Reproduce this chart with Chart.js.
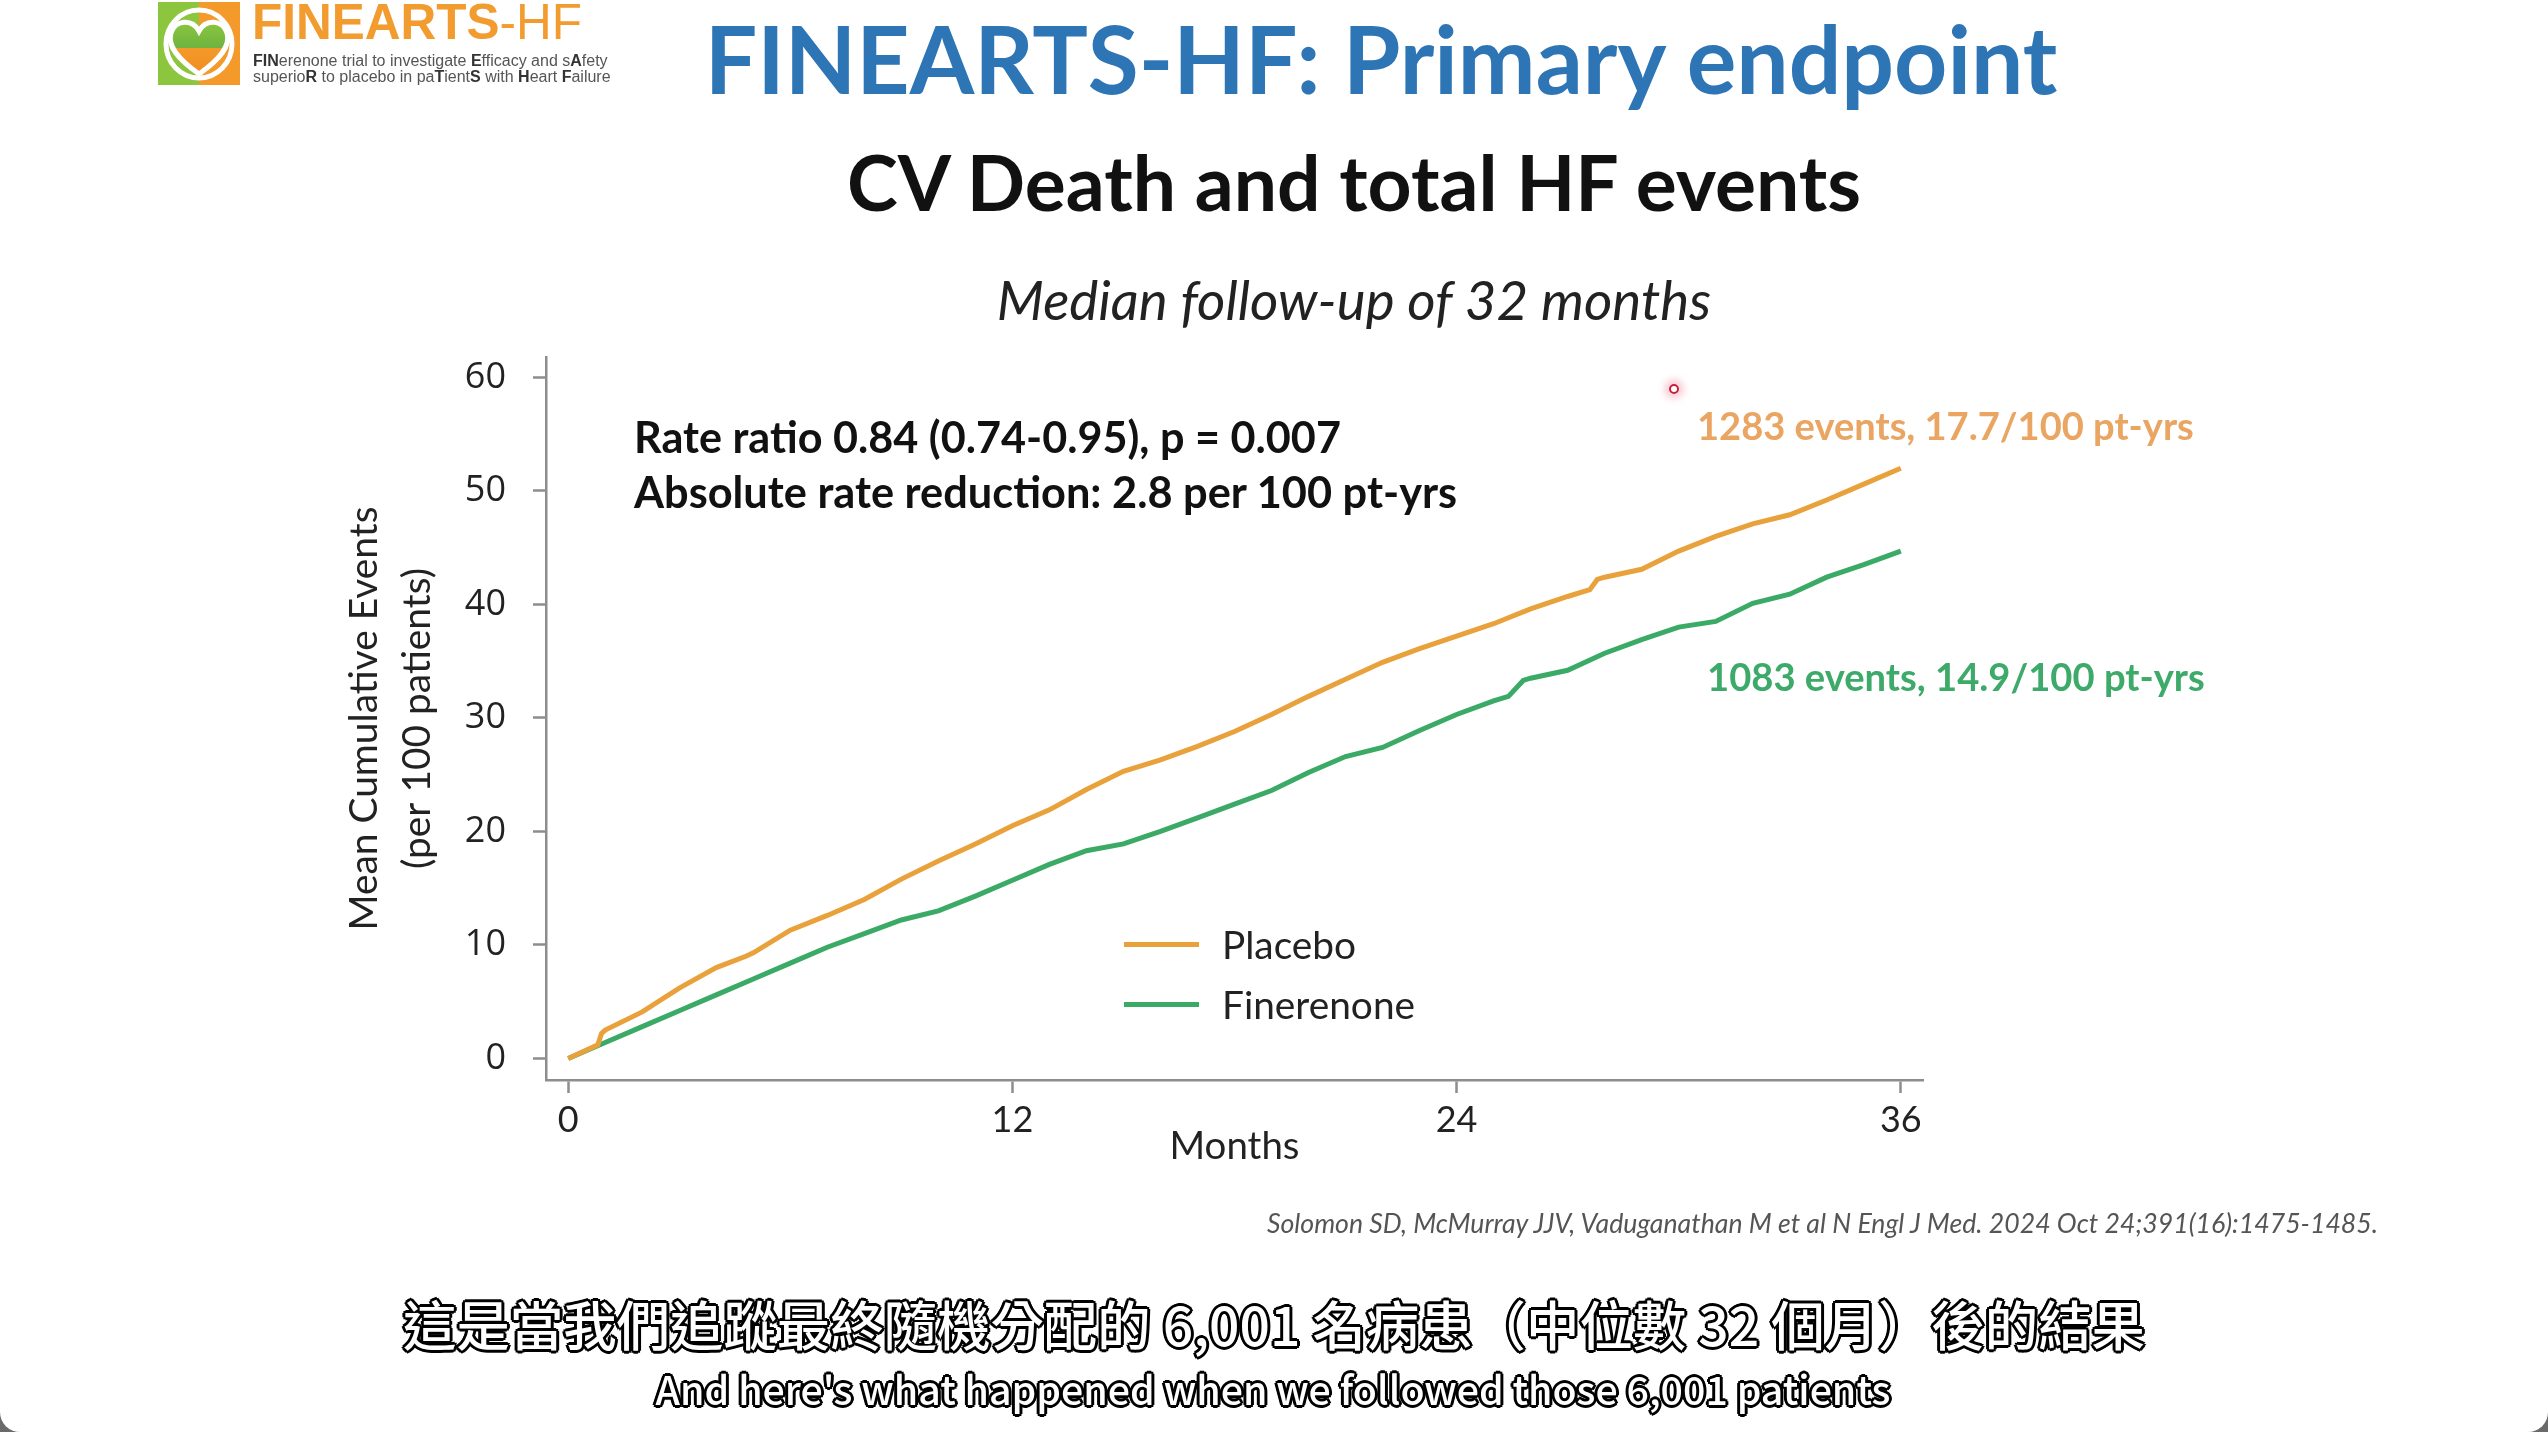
<!DOCTYPE html>
<html><head><meta charset="utf-8">
<script src="https://cdn.jsdelivr.net/npm/chart.js@4.4.1/dist/chart.umd.min.js"></script>
<style>
html,body{margin:0;padding:0;background:#6a6a6a;overflow:hidden;}
#page{position:relative;width:2548px;height:1432px;background:#fff;overflow:hidden;border-radius:0 0 20px 20px;}
#c{position:absolute;left:0;top:0;}
.t{position:absolute;white-space:nowrap;line-height:1;font-family:Lato,sans-serif;}
.l{transform:translate(0,-50%);}
.m{transform:translate(-50%,-50%);}
.sub{color:#fff;font-family:"Noto Sans CJK TC",sans-serif;font-weight:500;
 text-shadow:-2px -2px 0 #000,2px -2px 0 #000,-2px 2px 0 #000,2px 2px 0 #000,0 -3px 0 #000,0 3px 0 #000,-3px 0 0 #000,3px 0 0 #000;}
.logo2{font-family:"Liberation Sans",Arial,sans-serif;font-size:16px;color:#555;}
.logo2 b{color:#333;}
</style></head><body>
<div id="page">
<canvas id="c" width="2548" height="1432"></canvas>

<svg style="position:absolute;left:158px;top:2px" width="82" height="83" viewBox="0 0 82 83">
 <defs><linearGradient id="hg" x1="0" y1="0" x2="0" y2="1">
  <stop offset="0" stop-color="#8CC63F"/><stop offset="0.5" stop-color="#6DB33F"/>
  <stop offset="0.5" stop-color="#F39A2B"/><stop offset="1" stop-color="#F08C1E"/></linearGradient></defs>
 <rect x="0" y="0" width="41" height="83" fill="#8CC63F"/>
 <rect x="41" y="0" width="41" height="83" fill="#F39A2B"/>
 <ellipse cx="41" cy="42" rx="33" ry="34" fill="none" stroke="#fff" stroke-width="5"/>
 <path d="M41,72 C20,57 9,44 13,31 C17,18 34,16 41,29 C48,16 65,18 69,31 C73,44 62,57 41,72 Z" fill="url(#hg)" stroke="#fff" stroke-width="5"/>
</svg>
<div class="t l" style="left:252px;top:22px;font-family:'Liberation Sans',Arial,sans-serif;font-size:40px;color:#F29B2E;" data-w="340"><b>FINEARTS</b>-HF</div>
<div class="t l logo2" style="left:253px;top:61px;"><b>FIN</b>erenone trial to investigate <b>E</b>fficacy and s<b>A</b>fety</div>
<div class="t l logo2" style="left:253px;top:77px;">superio<b>R</b> to placebo in pa<b>T</b>ient<b>S</b> with <b>H</b>eart <b>F</b>ailure</div>

<div class="t m" style="left:1381px;top:58px;font-weight:700;color:#2E75B6;font-size:90px;" data-w="1355">FINEARTS-HF: Primary endpoint</div>
<div class="t m" style="left:1354px;top:181px;font-weight:700;color:#111;font-size:70px;" data-w="1019">CV Death and total HF events</div>
<div class="t m" style="left:1354px;top:299px;font-style:italic;color:#222;font-size:50px;" data-w="715">Median follow-up of 32 months</div>

<div class="t l" style="left:634px;top:437px;font-weight:700;color:#111;font-size:40px;" data-w="707">Rate ratio 0.84 (0.74-0.95), p = 0.007</div>
<div class="t l" style="left:634px;top:492px;font-weight:700;color:#111;font-size:40px;" data-w="824">Absolute rate reduction: 2.8 per 100 pt-yrs</div>
<div class="t l" style="left:1697px;top:425px;font-weight:700;color:#E9A561;font-size:38px;" data-w="497">1283 events, 17.7/100 pt-yrs</div>
<div class="t l" style="left:1707px;top:676px;font-weight:700;color:#3DAA6A;font-size:38px;" data-w="498">1083 events, 14.9/100 pt-yrs</div>

<div style="position:absolute;left:1669px;top:384px;width:6px;height:6px;border:2px solid #c4203c;border-radius:50%;box-shadow:0 0 7px 5px rgba(235,90,120,0.3);"></div>

<div class="t l" style="left:1267px;top:1223px;font-style:italic;color:#555;font-size:22px;" data-w="1114">Solomon SD, McMurray JJV, Vaduganathan M et al N Engl J Med. 2024 Oct 24;391(16):1475-1485.</div>

<div class="t m sub" style="left:1274px;top:1323px;font-size:60px;" data-w="1742">這是當我們追蹤最終隨機分配的 6,001 名病患（中位數 32 個月）後的結果</div>
<div class="t m sub" style="left:1273px;top:1388px;font-size:44px;" data-w="1235">And here's what happened when we followed those 6,001 patients</div>

<div id="legend"></div>
</div>
<script>
// ---- data ----
const placeboMonths = [0,0.8,0.9,1,2,3,4,4.8,5,6,7,8,9,10,11,12,13,14,15,16,17,18,19,20,21,22,23,24,25,26,27,27.6,27.8,28,29,30,31,32,33,34,35,36];
const placeboValues = [0,1.2,2.2,2.5,4.1,6.2,8.0,9.0,9.3,11.3,12.6,14.0,15.8,17.4,18.9,20.5,21.9,23.7,25.3,26.3,27.5,28.8,30.3,31.9,33.4,34.9,36.1,37.2,38.3,39.6,40.7,41.3,42.2,42.4,43.1,44.7,46.0,47.1,47.9,49.2,50.6,52.0];
const fineMonths = [0,1,2,3,4,5,6,7,8,9,10,11,12,13,14,15,16,17,18,19,20,21,22,23,24,25,25.4,25.8,26,27,28,29,30,31,32,33,34,35,36];
const fineValues = [0,1.4,2.8,4.2,5.6,7.0,8.4,9.8,11.0,12.2,13.0,14.3,15.7,17.1,18.3,18.9,20.0,21.2,22.4,23.6,25.2,26.6,27.4,28.9,30.3,31.5,31.9,33.3,33.5,34.2,35.7,36.9,38.0,38.5,40.1,40.9,42.4,43.5,44.7];
const seriesNames = ['Placebo','Finerenone'];
const xTicks = [0,12,24,36];
const yTicks = [0,10,20,30,40,50,60];

// ---- text fitting helper ----
const mctx = document.createElement('canvas').getContext('2d');
function fitSize(text, fontTail, target){ mctx.font = '100px ' + fontTail; return 100*target/mctx.measureText(text).width; }
function fitPrefixed(text, pre, family, target){ mctx.font = pre + ' 100px ' + family; return 100*target/mctx.measureText(text).width; }
document.querySelectorAll('[data-w]').forEach(el=>{
  const cs = getComputedStyle(el);
  const pre = cs.fontStyle + ' ' + cs.fontWeight;
  let s = fitPrefixed(el.textContent, pre, cs.fontFamily, +el.dataset.w);
  if (el.querySelector('b')) s = s*0.96;
  el.style.fontSize = s.toFixed(2)+'px';
});

const yTitleSize = fitSize('Mean Cumulative Events','Lato',424);
const xTitleSize = fitSize('Months','Lato',130);
const legendSize = (fitSize('Placebo','Lato',135)+fitSize('Finerenone','Lato',192))/2;

const colors = ['#E9A23B','#3BAA66'];
const grey = '#8d8d8d';

const chart = new Chart(document.getElementById('c'), {
  type: 'line',
  data: {
    datasets: [
      {label: seriesNames[0], data: placeboMonths.map((m,i)=>({x:m,y:placeboValues[i]})), borderColor: colors[0], backgroundColor: colors[0], borderWidth: 5, pointRadius: 0, tension: 0, fill: false},
      {label: seriesNames[1], data: fineMonths.map((m,i)=>({x:m,y:fineValues[i]})), borderColor: colors[1], backgroundColor: colors[1], borderWidth: 5, pointRadius: 0, tension: 0, fill: false}
    ]
  },
  options: {
    responsive: false, animation: false, devicePixelRatio: 1,
    layout: {padding: {left: 300, right: 625, top: 357, bottom: 232}},
    plugins: {legend: {display: false}, tooltip: {enabled: false}},
    scales: {
      x: {
        type: 'linear', min: -0.6, max: 36.6,
        afterBuildTicks: a => { a.ticks = xTicks.map(v=>({value:v})); },
        afterFit: s => { s.height = 120; s.paddingLeft = 0; s.paddingRight = 0; },
        ticks: {font: {family: 'Lato', size: 36}, color: '#222', padding: 6, maxRotation: 0, autoSkip: false},
        grid: {drawOnChartArea: false, drawTicks: true, tickLength: 13, tickColor: grey, tickWidth: 2.5},
        border: {display: true, color: grey, width: 2.5},
        title: {display: true, text: 'Months', color: '#222', font: {family: 'Lato', size: xTitleSize}, padding: {top: 0, bottom: 30}}
      },
      y: {
        type: 'linear', min: -1.9, max: 61.8,
        afterBuildTicks: a => { a.ticks = yTicks.map(v=>({value:v})); },
        afterFit: s => { s.width = 246; s.paddingTop = 0; s.paddingBottom = 0; },
        ticks: {font: {family: 'Open Sans', size: 36}, color: '#222', padding: 27, autoSkip: false},
        grid: {drawOnChartArea: false, drawTicks: true, tickLength: 13, tickColor: grey, tickWidth: 2.5},
        border: {display: true, color: grey, width: 2.5},
        title: {display: true, text: ['Mean Cumulative Events','(per 100 patients)'], color: '#222',
                font: {family: 'Lato', size: yTitleSize, lineHeight: 1.37}, padding: {top: 38, bottom: 0}}
      }
    }
  }
});

// HTML legend built from the chart's datasets
const lg = document.getElementById('legend');
const legendY = [944, 1004];
chart.data.datasets.forEach((ds,i)=>{
  const sw = document.createElement('div');
  sw.style.cssText = `position:absolute;left:1124px;top:${legendY[i]-2.5}px;width:75px;height:5px;background:${ds.borderColor};`;
  lg.appendChild(sw);
  const tx = document.createElement('div');
  tx.className = 't l';
  tx.style.cssText = `left:1222px;top:${legendY[i]}px;font-size:${legendSize.toFixed(2)}px;color:#222;`;
  tx.textContent = ds.label;
  lg.appendChild(tx);
});
</script>
</body></html>
